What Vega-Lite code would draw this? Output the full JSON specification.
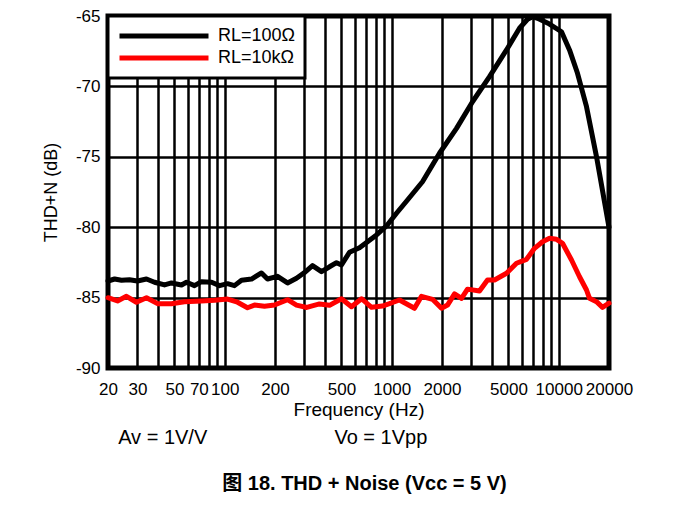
{
  "$schema": "https://vega.github.io/schema/vega-lite/v6.json",
  "autosize": {"type": "none"},
  "padding": {"left": 108, "top": 16, "right": 64, "bottom": 138},
  "width": 501,
  "height": 352,
  "background": "white",
  "config": {"font": "Liberation Sans", "view": {"stroke": "black", "strokeWidth": 5}},
  "title": {"text": "图 18. THD + Noise (Vcc = 5 V)", "orient": "bottom", "frame": "group", "anchor": "middle", "fontSize": 20, "fontWeight": "bold", "font": "Liberation Sans, Noto Sans CJK SC", "offset": 26, "dx": 6, "color": "black"},
  "datasets": {
    "curves": [
      {"series": "RL=100Ω", "freq": 20, "db": -83.82},
      {"series": "RL=100Ω", "freq": 21.9, "db": -83.68},
      {"series": "RL=100Ω", "freq": 24.1, "db": -83.77},
      {"series": "RL=100Ω", "freq": 26.9, "db": -83.73},
      {"series": "RL=100Ω", "freq": 30.0, "db": -83.82},
      {"series": "RL=100Ω", "freq": 34.0, "db": -83.68},
      {"series": "RL=100Ω", "freq": 38.0, "db": -83.91},
      {"series": "RL=100Ω", "freq": 43.6, "db": -84.10},
      {"series": "RL=100Ω", "freq": 48.0, "db": -83.96},
      {"series": "RL=100Ω", "freq": 55.1, "db": -84.10},
      {"series": "RL=100Ω", "freq": 59.0, "db": -83.91},
      {"series": "RL=100Ω", "freq": 65.9, "db": -84.15},
      {"series": "RL=100Ω", "freq": 72.6, "db": -83.87},
      {"series": "RL=100Ω", "freq": 83.4, "db": -83.91},
      {"series": "RL=100Ω", "freq": 93.1, "db": -84.15},
      {"series": "RL=100Ω", "freq": 103.9, "db": -84.01},
      {"series": "RL=100Ω", "freq": 114.4, "db": -84.15},
      {"series": "RL=100Ω", "freq": 126.0, "db": -83.77},
      {"series": "RL=100Ω", "freq": 144.7, "db": -83.68},
      {"series": "RL=100Ω", "freq": 166.0, "db": -83.25},
      {"series": "RL=100Ω", "freq": 180.4, "db": -83.68},
      {"series": "RL=100Ω", "freq": 207.0, "db": -83.49},
      {"series": "RL=100Ω", "freq": 237.7, "db": -83.96},
      {"series": "RL=100Ω", "freq": 269.0, "db": -83.63},
      {"series": "RL=100Ω", "freq": 300.4, "db": -83.22},
      {"series": "RL=100Ω", "freq": 335.4, "db": -82.73},
      {"series": "RL=100Ω", "freq": 379.7, "db": -83.16},
      {"series": "RL=100Ω", "freq": 424.0, "db": -82.81},
      {"series": "RL=100Ω", "freq": 467.0, "db": -82.52},
      {"series": "RL=100Ω", "freq": 500.3, "db": -82.68},
      {"series": "RL=100Ω", "freq": 558.6, "db": -81.78},
      {"series": "RL=100Ω", "freq": 641.2, "db": -81.46},
      {"series": "RL=100Ω", "freq": 716.2, "db": -81.03},
      {"series": "RL=100Ω", "freq": 810.7, "db": -80.55},
      {"series": "RL=100Ω", "freq": 930.6, "db": -79.91},
      {"series": "RL=100Ω", "freq": 1068, "db": -79.01},
      {"series": "RL=100Ω", "freq": 1243, "db": -78.07},
      {"series": "RL=100Ω", "freq": 1528, "db": -76.77},
      {"series": "RL=100Ω", "freq": 1932, "db": -74.75},
      {"series": "RL=100Ω", "freq": 2443, "db": -72.98},
      {"series": "RL=100Ω", "freq": 3046, "db": -71.09},
      {"series": "RL=100Ω", "freq": 3851, "db": -69.31},
      {"series": "RL=100Ω", "freq": 4868, "db": -67.41},
      {"series": "RL=100Ω", "freq": 5822, "db": -65.87},
      {"series": "RL=100Ω", "freq": 6502, "db": -65.23},
      {"series": "RL=100Ω", "freq": 6968, "db": -65.05},
      {"series": "RL=100Ω", "freq": 7466, "db": -65.16},
      {"series": "RL=100Ω", "freq": 8808, "db": -65.57},
      {"series": "RL=100Ω", "freq": 10390, "db": -66.12},
      {"series": "RL=100Ω", "freq": 11604, "db": -67.41},
      {"series": "RL=100Ω", "freq": 12956, "db": -69.07},
      {"series": "RL=100Ω", "freq": 14668, "db": -71.44},
      {"series": "RL=100Ω", "freq": 16836, "db": -74.99},
      {"series": "RL=100Ω", "freq": 20000, "db": -80.0},
      {"series": "RL=10kΩ", "freq": 20, "db": -85.01},
      {"series": "RL=10kΩ", "freq": 22.8, "db": -85.24},
      {"series": "RL=10kΩ", "freq": 25.8, "db": -84.91},
      {"series": "RL=10kΩ", "freq": 29.6, "db": -85.33},
      {"series": "RL=10kΩ", "freq": 34.0, "db": -85.01},
      {"series": "RL=10kΩ", "freq": 39.6, "db": -85.43},
      {"series": "RL=10kΩ", "freq": 48.0, "db": -85.43},
      {"series": "RL=10kΩ", "freq": 57.4, "db": -85.29},
      {"series": "RL=10kΩ", "freq": 72.6, "db": -85.24},
      {"series": "RL=10kΩ", "freq": 86.9, "db": -85.19},
      {"series": "RL=10kΩ", "freq": 103.9, "db": -85.10},
      {"series": "RL=10kΩ", "freq": 119.3, "db": -85.33},
      {"series": "RL=10kΩ", "freq": 136.9, "db": -85.72},
      {"series": "RL=10kΩ", "freq": 150.7, "db": -85.53},
      {"series": "RL=10kΩ", "freq": 173.0, "db": -85.62},
      {"series": "RL=10kΩ", "freq": 198.6, "db": -85.53},
      {"series": "RL=10kΩ", "freq": 237.7, "db": -85.15},
      {"series": "RL=10kΩ", "freq": 269.0, "db": -85.53},
      {"series": "RL=10kΩ", "freq": 310.0, "db": -85.70},
      {"series": "RL=10kΩ", "freq": 369.4, "db": -85.45},
      {"series": "RL=10kΩ", "freq": 424.0, "db": -85.55},
      {"series": "RL=10kΩ", "freq": 500.3, "db": -85.08},
      {"series": "RL=10kΩ", "freq": 574.2, "db": -85.65},
      {"series": "RL=10kΩ", "freq": 659.2, "db": -85.08},
      {"series": "RL=10kΩ", "freq": 756.7, "db": -85.69},
      {"series": "RL=10kΩ", "freq": 880.6, "db": -85.60},
      {"series": "RL=10kΩ", "freq": 1113, "db": -85.17},
      {"series": "RL=10kΩ", "freq": 1369, "db": -85.76},
      {"series": "RL=10kΩ", "freq": 1508, "db": -84.91},
      {"series": "RL=10kΩ", "freq": 1755, "db": -85.12},
      {"series": "RL=10kΩ", "freq": 1986, "db": -85.76},
      {"series": "RL=10kΩ", "freq": 2158, "db": -85.53},
      {"series": "RL=10kΩ", "freq": 2377, "db": -84.74},
      {"series": "RL=10kΩ", "freq": 2617, "db": -85.06},
      {"series": "RL=10kΩ", "freq": 2843, "db": -84.40},
      {"series": "RL=10kΩ", "freq": 3354, "db": -84.53},
      {"series": "RL=10kΩ", "freq": 3745, "db": -83.75},
      {"series": "RL=10kΩ", "freq": 4125, "db": -83.75},
      {"series": "RL=10kΩ", "freq": 4868, "db": -83.27},
      {"series": "RL=10kΩ", "freq": 5586, "db": -82.56},
      {"series": "RL=10kΩ", "freq": 6413, "db": -82.28},
      {"series": "RL=10kΩ", "freq": 7161, "db": -81.50},
      {"series": "RL=10kΩ", "freq": 7995, "db": -81.03},
      {"series": "RL=10kΩ", "freq": 8808, "db": -80.79},
      {"series": "RL=10kΩ", "freq": 9698, "db": -80.86},
      {"series": "RL=10kΩ", "freq": 10535, "db": -81.14},
      {"series": "RL=10kΩ", "freq": 11928, "db": -82.33},
      {"series": "RL=10kΩ", "freq": 13320, "db": -83.52},
      {"series": "RL=10kΩ", "freq": 14668, "db": -84.46},
      {"series": "RL=10kΩ", "freq": 15286, "db": -85.05},
      {"series": "RL=10kΩ", "freq": 16836, "db": -85.29},
      {"series": "RL=10kΩ", "freq": 18287, "db": -85.69},
      {"series": "RL=10kΩ", "freq": 20000, "db": -85.40}
    ],
    "notes": [
      {"label": "Av = 1V/V", "freq": 23.0, "db": -95.0},
      {"label": "Vo = 1Vpp", "freq": 454, "db": -95.0}
    ]
  },
  "layer": [
    {
      "data": {"name": "curves"},
      "mark": {"type": "line", "strokeWidth": 5, "strokeJoin": "round", "strokeCap": "round"},
      "encoding": {
        "x": {
          "field": "freq", "type": "quantitative",
          "scale": {"type": "log", "domain": [20, 20000], "nice": false},
          "axis": {
            "title": "Frequency (Hz)", "titleFontSize": 19, "titleFontWeight": "normal", "titleColor": "black", "titlePadding": 3,
            "values": [20,30,40,50,60,70,80,90,100,200,300,400,500,600,700,800,900,1000,2000,3000,4000,5000,6000,7000,8000,9000,10000,20000],
            "labelExpr": "indexof([20,30,50,70,100,200,500,1000,2000,5000,10000,20000], datum.value) >= 0 ? '' + datum.value : ''",
            "labelFontSize": 17, "labelColor": "black", "labelOverlap": false, "labelFlush": false, "labelPadding": 13,
            "ticks": false, "domain": false,
            "grid": true, "gridColor": "black", "gridWidth": 2.5, "gridOpacity": 1
          }
        },
        "y": {
          "field": "db", "type": "quantitative",
          "scale": {"domain": [-90, -65], "nice": false},
          "axis": {
            "title": "THD+N (dB)", "titleFontSize": 18, "titleFontWeight": "normal", "titleColor": "black", "titlePadding": 15,
            "values": [-90,-85,-80,-75,-70,-65],
            "labelExpr": "'' + datum.value",
            "labelFontSize": 17, "labelColor": "black", "labelPadding": 8,
            "ticks": false, "domain": false,
            "grid": true, "gridColor": "black", "gridWidth": 2.5, "gridOpacity": 1
          }
        },
        "color": {
          "field": "series", "type": "nominal",
          "scale": {"domain": ["RL=100Ω", "RL=10kΩ"], "range": ["black", "#ff0000"]},
          "legend": {
            "orient": "none", "legendX": 0, "legendY": 0, "title": null,
            "symbolType": "stroke", "symbolSize": 7921, "symbolStrokeWidth": 5,
            "labelFontSize": 18, "labelColor": "black", "labelOffset": 7,
            "padding": 9, "clipHeight": 22, "rowPadding": 0,
            "strokeColor": "black", "fillColor": "white",
            "encode": {"legend": {"update": {"strokeWidth": {"value": 3}}}}
          }
        }
      }
    },
    {
      "data": {"name": "notes"},
      "mark": {"type": "text", "align": "left", "baseline": "middle", "fontSize": 20, "color": "black"},
      "encoding": {
        "x": {"field": "freq", "type": "quantitative"},
        "y": {"field": "db", "type": "quantitative"},
        "text": {"field": "label"}
      }
    }
  ]
}
